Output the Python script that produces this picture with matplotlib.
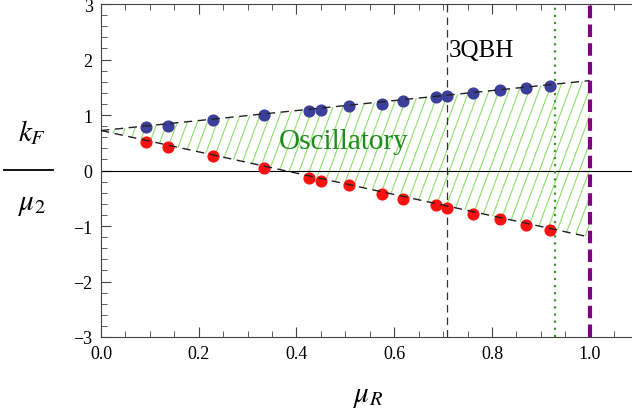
import matplotlib.pyplot as plt
import numpy as np
from matplotlib.lines import Line2D

# data
mu_R = [0.092, 0.138, 0.229, 0.334, 0.426, 0.451, 0.508, 0.576, 0.617,
        0.686, 0.707, 0.762, 0.816, 0.870, 0.919]
kF_upper = [0.78, 0.81, 0.91, 1.00, 1.07, 1.09, 1.16, 1.20, 1.25,
            1.32, 1.34, 1.39, 1.45, 1.49, 1.53]
kF_lower = [0.51, 0.42, 0.26, 0.05, -0.14, -0.19, -0.27, -0.42, -0.51,
            -0.62, -0.68, -0.78, -0.87, -0.99, -1.08]
bound_x = [0.0, 1.0]
bound_upper = [0.72, 1.62]
bound_lower = [0.72, -1.20]
x_3qbh = 0.707
x_dotted = 0.930
x_limit = 1.0

plt.rcParams['font.family'] = ['Liberation Serif', 'DejaVu Serif']
plt.rcParams['mathtext.fontset'] = 'stix'

fig = plt.figure(figsize=(6.32, 4.14), dpi=100)
ax = fig.add_axes([101 / 632, 1 - 338 / 414, 1 - 101 / 632, 333 / 414])
ax.set_xlim(0, 531 / 488.7)
ax.set_ylim(-3, 3)

# hatched oscillatory region, drawn with steep custom hatch lines
region = ax.fill_between(bound_x, bound_lower, bound_upper, facecolor='none',
                         edgecolor='none', zorder=1)
slope_px = 2.7
dx_per_unit_y = (55.5 / 488.7) / slope_px
spacing = 10 / 488.7
for c in np.arange(-0.6, 1.3, spacing):
    ln = Line2D([c, c + 6 * dx_per_unit_y], [-3, 3],
                color='#8ee06a', lw=0.8, zorder=1)
    ax.add_line(ln)
    ln.set_clip_path(region.get_paths()[0], ax.transData)

ax.axhline(0, color='black', lw=0.8, zorder=2)
ax.axvline(x_3qbh, color='#333333', lw=0.9, ls=(0, (6, 4)), zorder=2)
ax.axvline(x_dotted, color='#3d9a2a', lw=1.6, ls=(0, (1, 2.2)), zorder=2)
ax.axvline(x_limit, color='#800080', lw=3.0, ls=(0, (3, 1.5)), zorder=5)

ax.scatter(mu_R, kF_upper, s=60, color='#3b3f9a', zorder=3)
ax.scatter(mu_R, kF_lower, s=60, color='#ff1010', zorder=3)
ax.plot(bound_x, bound_upper, color='#222222', lw=1.0, ls=(0, (6, 4)), zorder=4)
ax.plot(bound_x, bound_lower, color='#222222', lw=1.0, ls=(0, (6, 4)), zorder=4)

ax.text(0.712, 2.17, '3QBH', fontsize=18, va='center', ha='left', color='black')
ax.text(0.364, 0.53, 'Oscillatory', fontsize=21, va='center', ha='left',
        color='#1f8c1f')

ax.set_xticks([0.0, 0.2, 0.4, 0.6, 0.8, 1.0])
ax.set_xticklabels(['0.0', '0.2', '0.4', '0.6', '0.8', '1.0'])
ax.set_xticks(np.arange(0, 1.09, 0.05), minor=True)
ax.set_yticks([-3, -2, -1, 0, 1, 2, 3])
ax.set_yticklabels(['\u22123', '\u22122', '\u22121', '0', '1', '2', '3'])
ax.set_yticks(np.arange(-3, 3.01, 0.2), minor=True)
ax.tick_params(which='both', direction='in', top=True, right=False,
               color='#444444')
ax.tick_params(which='major', length=7, width=0.8, labelsize=13, pad=6)
ax.tick_params(which='minor', length=4, width=0.6)
for lab in ax.get_xticklabels() + ax.get_yticklabels():
    lab.set_fontfamily('Liberation Serif')
ax.spines['right'].set_visible(False)
for s in ['left', 'bottom', 'top']:
    ax.spines[s].set_color('#444444')
    ax.spines[s].set_linewidth(0.8)

# axis labels
fig.text(368 / 632, 1 - 397 / 414, r'$\mu_R$', fontsize=21, ha='center', va='center')
fig.text(32 / 632, 1 - 133 / 414, r'$k_F$', fontsize=21, ha='center', va='center')
fig.text(32 / 632, 1 - 205 / 414, r'$\mu_2$', fontsize=21, ha='center', va='center')
fig.add_artist(Line2D([4 / 632, 53 / 632], [1 - 171 / 414, 1 - 171 / 414],
                      color='black', lw=1.3, transform=fig.transFigure))

fig.savefig('out.png', dpi=100)
